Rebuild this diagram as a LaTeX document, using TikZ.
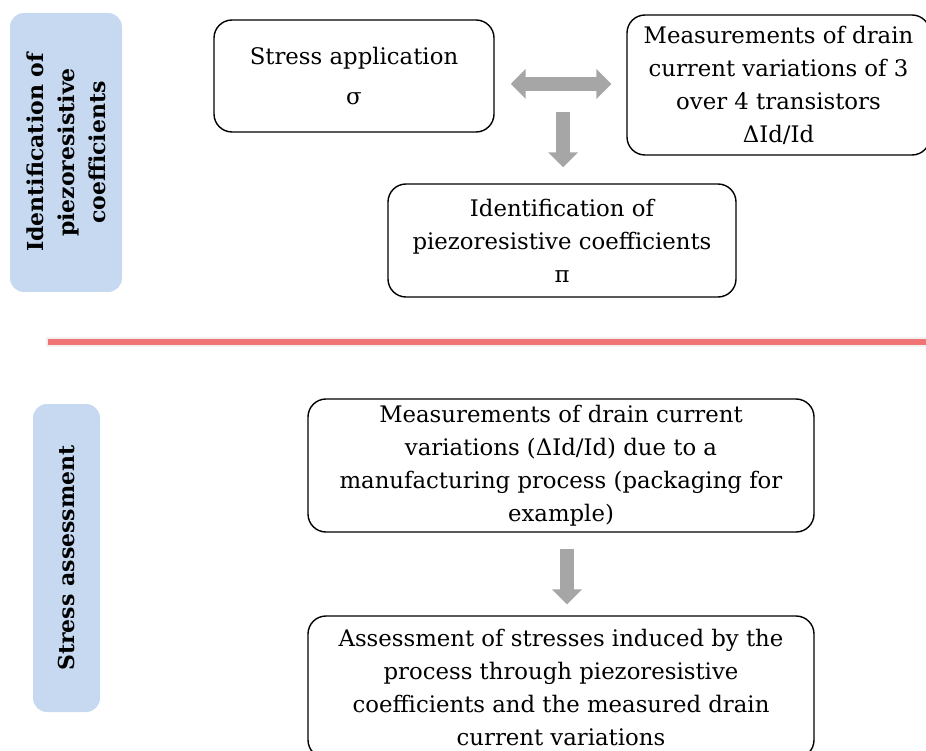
\documentclass[tikz,border=0pt]{standalone}
\usepackage{fontspec}
\setmainfont{DejaVu Serif}
\usetikzlibrary{arrows.meta}
\tikzset{
  step-box/.style={
    draw=black,
    line width=1.4pt,
    rounded corners=18pt,
    align=center,
    inner sep=0pt,
    font=\fontsize{22.8}{33}\selectfont
  },
  side-label/.style={
    fill=sideblue,
    rounded corners=14pt,
    rotate=90,
    align=center,
    inner sep=0pt,
    font=\bfseries\fontsize{22}{31}\selectfont
  },
  fat-arrow/.style={
    draw=arrowgray,
    line width=14pt,
    -{Triangle[length=15pt,width=29pt]}
  },
  fat-arrow-both/.style={
    fat-arrow,
    {Triangle[length=15pt,width=29pt]}-{Triangle[length=15pt,width=29pt]}
  },
  separator/.style={line width=6pt, draw=sepred}
}
\definecolor{sideblue}{RGB}{198,217,240}
\definecolor{arrowgray}{RGB}{166,166,166}
\definecolor{sepred}{RGB}{241,116,116}

\begin{document}
\begin{tikzpicture}[x=1pt,y=1pt]
  \useasboundingbox (0,0) rectangle (926,-751);
  % Side labels
  \node[side-label, minimum width=279pt, minimum height=112pt] (side-top) at (66,-152.5)
    {Identification of\\piezoresistive\\coefficients};
  \node[side-label, minimum width=308pt, minimum height=67pt] (side-bottom) at (66.5,-558)
    {Stress assessment};
  % Identification steps
  \node[step-box, minimum width=280pt, minimum height=112pt] (stress) at (354,-76)
    {Stress application\\[7pt]σ};
  \node[step-box, minimum width=303pt, minimum height=140pt] (meas) at (778.5,-85)
    {Measurements of drain\\current variations of 3\\over 4 transistors\\ΔId/Id};
  \node[step-box, minimum width=348pt, minimum height=113pt] (ident) at (562,-240.5)
    {Identification of\\piezoresistive  coefficients\\π};
  \coordinate (gap) at (563,-84);
  \coordinate (drop) at (563,-112);
  \draw[fat-arrow-both, shorten <=16pt, shorten >=15pt] (stress.east |- gap) -- (meas.west |- gap);
  \draw[fat-arrow, shorten >=16pt] (drop) -- (drop |- ident.north);
  % Separator
  \draw[line width=10pt, black!6] (46,-342) -- (926,-342);
  \draw[separator] (48,-342) -- (926,-342);
  % Assessment steps
  \node[step-box, minimum width=506pt, minimum height=133pt] (meas-proc) at (561,-465.5)
    {Measurements of drain current\\variations (ΔId/Id) due to a\\manufacturing process (packaging for\\example)};
  \node[step-box, minimum width=506pt, minimum height=142pt] (assess) at (561,-687)
    {Assessment of stresses induced by the\\process through piezoresistive\\coefficients and the measured drain\\current variations};
  \draw[fat-arrow, shorten <=16pt, shorten >=11pt] ([xshift=6pt]meas-proc.south) -- ([xshift=6pt]assess.north);
\end{tikzpicture}
\end{document}
